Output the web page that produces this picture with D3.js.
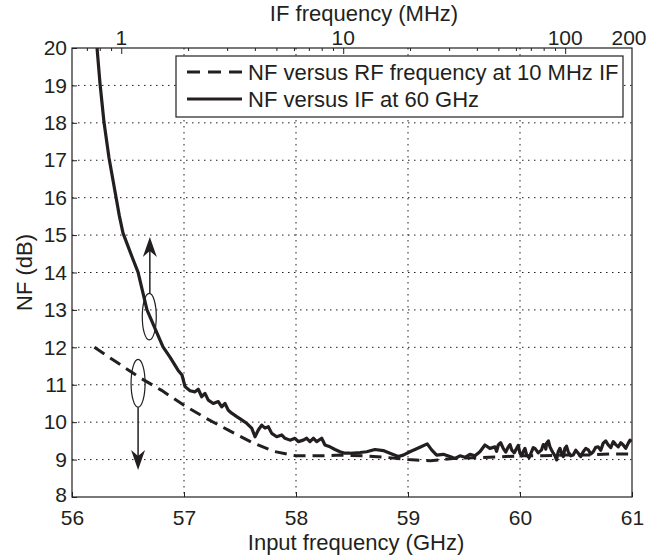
<!DOCTYPE html>
<html>
<head>
<meta charset="utf-8">
<script src="https://cdn.jsdelivr.net/npm/d3@7"></script>
<style>
  html, body { margin: 0; padding: 0; background: #fff; }
  svg text { font-family: "Liberation Sans", Arial, Helvetica, sans-serif; fill: #231f20; }
</style>
</head>
<body>
<svg id="chart" width="652" height="555"></svg>
<script>
// ---------- data ----------
// Dashed: NF versus RF frequency at 10 MHz IF (bottom axis, GHz)
const rfFreq = [56.2, 56.4, 56.6, 56.8, 57.0, 57.2, 57.4, 57.6, 57.8, 58.0, 58.2, 58.4, 58.6, 58.8, 59.0, 59.2, 59.4, 59.6, 59.8, 60.0, 60.2, 60.4, 60.6, 60.8, 61.0];
const rfNF   = [12.0, 11.6, 11.2, 10.85, 10.45, 10.1, 9.78, 9.47, 9.22, 9.1, 9.1, 9.12, 9.1, 9.06, 9.0, 8.97, 9.03, 9.05, 9.07, 9.1, 9.1, 9.12, 9.12, 9.15, 9.15];

// Solid: NF versus IF at 60 GHz (top axis, MHz)
const ifFreq = [0.778, 0.802, 0.836, 0.881, 0.947, 0.98, 1.018, 1.07, 1.118, 1.19, 1.306, 1.542, 1.658, 1.802, 1.878, 1.938, 2.041, 2.149, 2.224, 2.304, 2.384, 2.467, 2.598, 2.737, 2.835, 2.934, 3.036, 3.146, 3.313, 3.489, 3.674, 3.87, 4.005, 4.145, 4.294, 4.444, 4.599, 4.764, 5.016, 5.283, 5.468, 5.757, 6.063, 6.275, 6.609, 6.846, 7.085, 7.332, 7.595, 7.998, 8.277, 8.718, 9.183, 9.67, 10.18, 10.72, 11.9, 12.75, 13.9, 15.15, 16.24, 17.7, 18.64, 19.98, 22.17, 23.91, 25.02, 26.36, 28.23, 30.26, 31.87, 33.57, 35.35, 37.23, 39.21, 41.3, 43.5, 45.8,
  48.28, 49.1, 49.96, 51.2, 52.6, 54.0, 55.4, 56.4, 57.4, 58.9, 60.45, 61.5, 62.55, 63.6, 64.7, 65.9, 67.06, 68.8, 70.6, 71.8, 73.1, 75.6, 78.3, 79.7, 81.1, 81.8, 82.5, 84.0, 85.4, 86.9, 88.4, 90.0, 91.5, 92.2, 93.0, 94.7, 96.4, 98.0, 99.7, 101.4, 103.2, 106.0, 108.7, 111.6, 114.5, 117.5, 120.6, 123.8, 127.1, 130.4, 133.8, 137.3, 140.9, 144.6, 148.4, 152.3, 156.3, 160.5, 164.7, 169.0, 173.4, 178.0, 182.6, 187.4, 192.4, 196.0, 199.3];
const ifNF   = [20.0, 19.06, 18.02, 17.06, 16.02, 15.52, 15.06, 14.72, 14.42, 14.01, 13.0, 12.01, 11.74, 11.39, 11.26, 10.95, 10.84, 10.81, 10.88, 10.68, 10.77, 10.59, 10.5, 10.55, 10.41, 10.5, 10.32, 10.24, 10.15, 10.06, 9.97, 9.84, 9.61, 9.79, 9.92, 9.84, 9.88, 9.7, 9.61, 9.66, 9.57, 9.52, 9.57, 9.48, 9.52, 9.57, 9.48, 9.57, 9.48, 9.57, 9.39, 9.34, 9.27, 9.21, 9.17, 9.17, 9.19, 9.21, 9.27, 9.24, 9.17, 9.08, 9.12, 9.21, 9.33, 9.42, 9.26, 9.12, 9.14, 9.08, 9.03, 9.1, 9.06, 9.14, 9.1, 9.21, 9.39, 9.3,
  9.34, 9.22, 9.39, 9.45, 9.3, 9.2, 9.34, 9.4, 9.26, 9.18, 9.3, 9.38, 9.17, 9.1, 9.21, 9.3, 9.12, 9.05, 9.21, 9.32, 9.3, 9.18, 9.26, 9.4, 9.39, 9.28, 9.44, 9.5, 9.34, 9.25, 9.17, 9.1, 8.99, 9.1, 9.21, 9.3, 9.17, 9.08, 9.3, 9.36, 9.21, 9.1, 9.12, 9.25, 9.17, 9.08, 9.21, 9.3, 9.26, 9.15, 9.21, 9.33, 9.34, 9.25, 9.44, 9.5, 9.39, 9.32, 9.48, 9.4, 9.34, 9.45, 9.39, 9.3, 9.44, 9.52, 9.48];

const bottomTicks = [56, 57, 58, 59, 60, 61];
const leftTicks = [8, 9, 10, 11, 12, 13, 14, 15, 16, 17, 18, 19, 20];
const topLabels = [1, 10, 100, 200];
const topMinor = [0.7, 0.8, 0.9, 2, 3, 4, 5, 6, 7, 8, 9, 20, 30, 40, 50, 60, 70, 80, 90];
const legendLabels = ["NF versus RF frequency at 10 MHz IF", "NF versus IF at 60 GHz"];

// ---------- layout ----------
const L = 72, R = 632, T = 48, B = 497;
const svg = d3.select("#chart");
const x = d3.scaleLinear().domain([56, 61]).range([L, R]);
const xTop = d3.scaleLog().domain([0.6, 200]).range([L, R]);
const y = d3.scaleLinear().domain([8, 20]).range([B, T]);
const ink = "#231f20";

// grid
const grid = svg.append("g");
grid.selectAll("line.h").data(leftTicks.filter(v => v > 8 && v < 20)).enter().append("line")
  .attr("x1", L).attr("x2", R).attr("y1", d => y(d)).attr("y2", d => y(d))
  .attr("stroke", ink).attr("stroke-width", 1).attr("stroke-dasharray", "1.5,4.5");
grid.selectAll("line.v").data(bottomTicks.filter(v => v > 56 && v < 61)).enter().append("line")
  .attr("x1", d => x(d)).attr("x2", d => x(d)).attr("y1", T).attr("y2", B)
  .attr("stroke", ink).attr("stroke-width", 1).attr("stroke-dasharray", "1.5,4.5");

// axes
const fs = "21px", fsTitle = "22px", fsLeg = "22px";
const gB = svg.append("g").attr("transform", `translate(0,${B})`)
  .call(d3.axisBottom(x).tickValues(bottomTicks).tickSize(-5).tickPadding(9).tickFormat(d3.format("d")));
const gL = svg.append("g").attr("transform", `translate(${L},0)`)
  .call(d3.axisLeft(y).tickValues(leftTicks).tickSize(-5).tickPadding(5).tickFormat(d3.format("d")));
const gT = svg.append("g").attr("transform", `translate(0,${T})`)
  .call(d3.axisTop(xTop).tickValues([1, 10, 100]).tickSize(-6).tickFormat(""));
const gTm = svg.append("g").attr("transform", `translate(0,${T})`)
  .call(d3.axisTop(xTop).tickValues(topMinor).tickSize(-3).tickFormat(""));
[gB, gL, gT, gTm].forEach(g => {
  g.select(".domain").remove();
  g.selectAll(".tick line").attr("stroke", ink);
  g.selectAll(".tick text").style("font-size", fs).attr("fill", ink);
});
gB.selectAll(".tick text").attr("dy", "0.9em");
gL.selectAll(".tick text").filter(d => d === 8).attr("dy", "0.2em");

// top labels
svg.append("g").selectAll("text").data(topLabels).enter().append("text")
  .attr("x", d => xTop(d) - (d === 200 ? 3 : 0)).attr("y", 45)
  .attr("text-anchor", "middle").style("font-size", fs).text(d => d);

// frame
svg.append("rect").attr("x", L).attr("y", T).attr("width", R - L).attr("height", B - T)
  .attr("fill", "none").attr("stroke", ink).attr("stroke-width", 1.2);

// axis titles
svg.append("text").attr("x", 364).attr("y", 21).attr("text-anchor", "middle").style("font-size", fsTitle).text("IF frequency (MHz)");
svg.append("text").attr("x", 356).attr("y", 550).attr("text-anchor", "middle").style("font-size", fsTitle).text("Input frequency (GHz)");
svg.append("text").attr("transform", `translate(32,${(T + B) / 2}) rotate(-90)`).attr("text-anchor", "middle").style("font-size", fsTitle).text("NF (dB)");

// clip
svg.append("clipPath").attr("id", "clip").append("rect").attr("x", L).attr("y", T).attr("width", R - L).attr("height", B - T);

// lines
const rfData = rfFreq.map((f, i) => [f, rfNF[i]]);
const ifData = ifFreq.map((f, i) => [f, ifNF[i]]);
svg.append("path").datum(rfData).attr("clip-path", "url(#clip)")
  .attr("d", d3.line().x(d => x(d[0])).y(d => y(d[1])))
  .attr("fill", "none").attr("stroke", ink).attr("stroke-width", 3).attr("stroke-dasharray", "12,7");
svg.append("path").datum(ifData).attr("clip-path", "url(#clip)")
  .attr("d", d3.line().x(d => xTop(d[0])).y(d => y(d[1])))
  .attr("fill", "none").attr("stroke", ink).attr("stroke-width", 3.2).attr("stroke-linejoin", "round");

// annotations (ellipses + arrows) in data coordinates
const ann = svg.append("g");
function ellipse(cx, cy, rxG, ryDb) {
  ann.append("ellipse").attr("cx", x(cx)).attr("cy", y(cy))
    .attr("rx", x(56 + rxG) - x(56)).attr("ry", y(8) - y(8 + ryDb))
    .attr("fill", "none").attr("stroke", ink).attr("stroke-width", 1.2);
}
function arrow(xg, fromDb, toDb) {
  const px = x(xg), y0 = y(fromDb), y1 = y(toDb);
  const dir = y1 < y0 ? 1 : -1; // 1 = up
  const hl = 20, hw = 7, notch = 6;
  ann.append("line").attr("x1", px).attr("x2", px).attr("y1", y0).attr("y2", y1 + dir * (hl - notch))
    .attr("stroke", ink).attr("stroke-width", 1.5);
  ann.append("path").attr("d",
    `M${px},${y1} L${px - hw},${y1 + dir * hl} L${px},${y1 + dir * (hl - notch)} L${px + hw},${y1 + dir * hl} Z`)
    .attr("fill", ink);
}
ellipse(56.69, 12.82, 0.0625, 0.62);
arrow(56.695, 13.45, 14.95);
ellipse(56.59, 11.04, 0.0625, 0.64);
arrow(56.59, 10.4, 8.72);

// legend
const lg = svg.append("g");
lg.append("rect").attr("x", 176).attr("y", 56).attr("width", 447).attr("height", 61)
  .attr("fill", "#fff").attr("stroke", ink).attr("stroke-width", 1.2);
const legY = [72, 99];
lg.append("line").attr("x1", 187).attr("x2", 242).attr("y1", legY[0]).attr("y2", legY[0])
  .attr("stroke", ink).attr("stroke-width", 3).attr("stroke-dasharray", "13,8");
lg.append("line").attr("x1", 187).attr("x2", 242).attr("y1", legY[1]).attr("y2", legY[1])
  .attr("stroke", ink).attr("stroke-width", 3);
lg.selectAll("text").data(legendLabels).enter().append("text")
  .attr("x", 248).attr("y", (d, i) => legY[i] + 8).style("font-size", fsLeg).text(d => d);
</script>
</body>
</html>
